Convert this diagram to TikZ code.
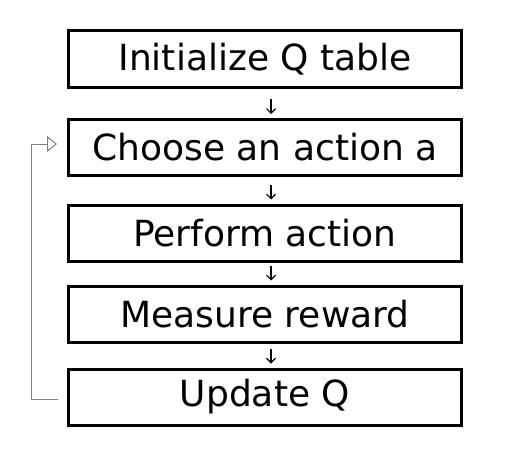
\documentclass[tikz,border=0pt]{standalone}
\usepackage{fontspec}
\setmainfont{DejaVu Sans}
\usepackage{tikz}
\usetikzlibrary{arrows.meta}
\tikzstyle{stage} = [draw, line width=3pt, minimum width=393pt, minimum height=56pt, inner sep=0pt, font=\fontsize{36}{40}\selectfont]
\tikzstyle{flow} = [-{Straight Barb[length=4.5pt,width=9pt]}, line width=1.2pt, shorten >=4pt]
\tikzstyle{back} = [-{Triangle[open,length=10pt,width=16pt]}, draw=gray, line width=1pt]

\begin{document}
\begin{tikzpicture}[x=1pt,y=-1pt]
	  \useasboundingbox (0,0) rectangle (519,460);
	  \node (a) at (265,59) [stage] {Initialize Q table};
	  \node (b) at (265,147.5) [stage] {Choose an action a};
	  \node (c) at (265,233) [stage] {Perform action};
	  \node (d) at (265,314) [stage] {Measure reward};
	  \node (e) at (265,397) [stage] {Update Q};

	  \draw [flow, shorten <=10.5pt] ([xshift=6pt]a.south) to ([xshift=6pt]b.north);
	  \draw [flow, shorten <=7.5pt] ([xshift=6pt]b.south) to ([xshift=6pt]c.north);
	  \draw [flow, shorten <=3pt] ([xshift=6pt]c.south) to ([xshift=6pt]d.north);
	  \draw [flow, shorten <=5pt] ([xshift=6pt]d.south) to ([xshift=6pt]e.north);
	  \draw [back] ([xshift=-9pt,yshift=-2pt]e.west) -| (31,144) -- ([xshift=-10pt,yshift=3.5pt]b.west);
	\end{tikzpicture}
\end{document}
